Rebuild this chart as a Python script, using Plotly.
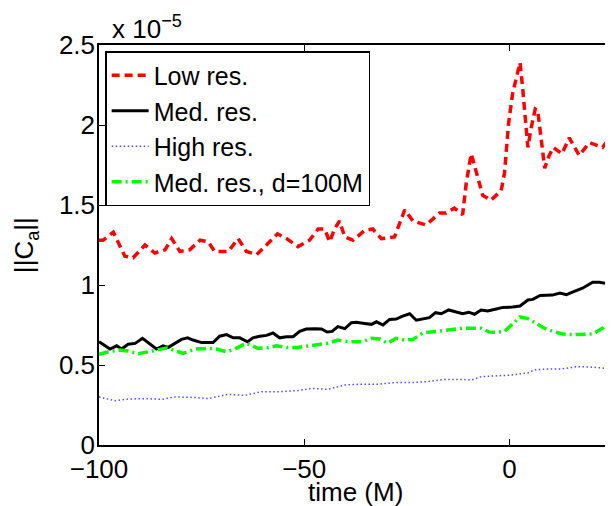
import plotly.graph_objects as go

SCALE = 1e-5

# Low res. (values in units of 1e-5)
t_low = [-100, -99, -96.5, -94.9, -93.7, -91.7, -88.8, -86.4, -83.9, -82.3, -80.3, -77.9,
         -75.4, -73.4, -71.8, -68.5, -66.1, -64.1, -61.6, -59.2, -56.5, -54.3, -51.5,
         -48.7, -46.6, -45.0, -43.8, -42.6, -41.4, -40.1, -38.1, -35.3, -33.3, -31.2,
         -28.0, -25.5, -23.5, -20.3, -17.0, -15.4, -13.4, -11.4, -10.5, -9.3, -7.7,
         -6.5, -4.5, -2.0, -1.2, -0.2, 0.8, 1.9, 2.6, 3.2, 4.1, 4.5, 5.3, 6.3, 6.9,
         7.7, 8.6, 9.7, 10.7, 12.8, 14.6, 17.0, 19.5, 22.7, 25.0]
y_low = [1.28, 1.28, 1.33, 1.25, 1.18, 1.17, 1.25, 1.20, 1.22, 1.29, 1.21, 1.22,
         1.28, 1.27, 1.21, 1.21, 1.29, 1.21, 1.19, 1.25, 1.32, 1.29, 1.24,
         1.28, 1.35, 1.35, 1.27, 1.35, 1.40, 1.30, 1.28, 1.34, 1.35, 1.29,
         1.30, 1.47, 1.40, 1.375, 1.45, 1.45, 1.48, 1.44, 1.64, 1.82, 1.68,
         1.56, 1.53, 1.59, 1.70, 2.01, 2.20, 2.32, 2.39, 2.24, 2.01, 1.86, 1.98, 2.10, 2.09,
         1.93, 1.73, 1.81, 1.86, 1.82, 1.92, 1.81, 1.89, 1.86, 1.94]

# Med. res.
t_med = [-100, -99, -97.3, -95.7, -94.5, -92.9, -91.2, -89.4, -87.6, -86.0, -84.4, -83.1,
         -81.5, -79.9, -78.4, -77.1, -75.0, -72.2, -70.6, -68.9, -67.3, -65.7, -63.8,
         -62.5, -60.8, -59.2, -57.6, -56.0, -54.3, -52.7, -51.1, -49.5, -47.4, -45.8,
         -44.4, -43.2, -41.8, -40.1, -38.5, -37.3, -35.3, -33.6, -32.4, -30.8, -29.2,
         -27.6, -26.0, -24.3, -22.7, -21.1, -19.5, -18.0, -16.6, -14.8, -13.0, -11.4,
         -9.9, -8.5, -6.9, -5.3, -3.2, -1.6, 0.8, 2.6, 4.5, 5.7, 7.5, 10.5, 12.3, 13.9,
         15.8, 17.8, 20.3, 21.9, 25.0]
y_med = [0.646, 0.63, 0.60, 0.62, 0.60, 0.63, 0.635, 0.667, 0.63, 0.60, 0.62, 0.61,
         0.635, 0.66, 0.67, 0.656, 0.64, 0.64, 0.68, 0.69, 0.67, 0.67, 0.645,
         0.67, 0.68, 0.685, 0.70, 0.67, 0.677, 0.677, 0.71, 0.725, 0.727, 0.725,
         0.706, 0.71, 0.74, 0.727, 0.764, 0.767, 0.76, 0.754, 0.77, 0.75, 0.785,
         0.787, 0.806, 0.82, 0.78, 0.79, 0.796, 0.827, 0.82, 0.844, 0.83, 0.82,
         0.83, 0.817, 0.844, 0.838, 0.85, 0.86, 0.862, 0.869, 0.906, 0.91, 0.935, 0.937, 0.95, 0.94,
         0.96, 0.98, 1.017, 1.017, 1.003]

# High res.
t_high = [-100, -96.1, -92.9, -88.8, -84.7, -81.5, -76.6, -73.4, -68.5, -64.5, -60.4,
          -56.4, -51.5, -48.2, -44.2, -40.1, -36.1, -32.0, -28.0, -23.9, -19.9, -15.8,
          -11.8, -9.3, -6.9, -3.6, 0.4, 4.5, 6.1, 9.3, 12.6, 16.6, 20.7, 25.0]
y_high = [0.30, 0.277, 0.287, 0.29, 0.285, 0.30, 0.297, 0.29, 0.317, 0.31, 0.333,
          0.333, 0.34, 0.354, 0.348, 0.375, 0.38, 0.38, 0.39, 0.39, 0.396, 0.41,
          0.41, 0.406, 0.427, 0.433, 0.437, 0.45, 0.47, 0.475, 0.475, 0.49, 0.486, 0.475]

# Med. res., d=100M
t_d100 = [-100, -97.7, -94.9, -92.9, -90.4, -88.0, -85.2, -83.5, -81.9, -79.5, -76.6,
          -73.4, -71.4, -68.9, -66.9, -64.1, -61.2, -58.8, -56.8, -54.3, -51.5, -49.1,
          -46.6, -44.2, -41.8, -39.3, -35.7, -33.6, -31.6, -29.6, -27.6, -25.5, -23.5,
          -21.1, -17.8, -14.6, -11.4, -8.9, -6.9, -4.9, -3.2, -1.2, 0.8, 2.6, 4.5, 6.5,
          8.5, 10.5, 13.0, 15.4, 17.8, 20.3, 22.7, 25.0]
y_d100 = [0.567, 0.583, 0.594, 0.587, 0.57, 0.583, 0.60, 0.606, 0.594, 0.573, 0.60,
          0.604, 0.60, 0.583, 0.60, 0.636, 0.604, 0.608, 0.62, 0.61, 0.61, 0.62,
          0.625, 0.636, 0.656, 0.646, 0.646, 0.667, 0.663, 0.636, 0.667, 0.656, 0.66,
          0.70, 0.71, 0.72, 0.73, 0.73, 0.73, 0.706, 0.704, 0.71, 0.76, 0.80, 0.79, 0.76,
          0.73, 0.71, 0.694, 0.69, 0.69, 0.694, 0.73, 0.79]

y_ticks = [0, 0.5, 1, 1.5, 2, 2.5]
y_tick_labels = ["0", "0.5", "1", "1.5", "2", "2.5"]
x_ticks = [-100, -50, 0]

FONT = "Liberation Sans, Arial, Helvetica, sans-serif"


def sc(v):
    return [a * SCALE for a in v]


fig = go.Figure()
fig.add_trace(go.Scatter(x=t_low, y=sc(y_low), mode="lines", name="Low res.",
                         line=dict(color="#ff0000", width=3.5, dash="8px,5px")))
fig.add_trace(go.Scatter(x=t_med, y=sc(y_med), mode="lines", name="Med. res.",
                         line=dict(color="#000000", width=3)))
fig.add_trace(go.Scatter(x=t_high, y=sc(y_high), mode="lines", name="High res.",
                         line=dict(color="#4d4dff", width=1.5, dash="1.5px,2.5px")))
fig.add_trace(go.Scatter(x=t_d100, y=sc(y_d100), mode="lines", name="Med. res., d=100M",
                         line=dict(color="#00ff00", width=3.5, dash="10px,4px,2px,4px")))

# The page places the figure 8px from the top-left corner (default body margin),
# so the figure is 8px smaller and margins are reduced by 8px.
fig.update_layout(
    width=605, height=498,
    margin=dict(l=91, r=1, t=37, b=61),
    paper_bgcolor="white", plot_bgcolor="white",
    font=dict(family=FONT, size=26, color="black"),
    showlegend=True,
    legend=dict(x=0.012, y=0.985, xanchor="left", yanchor="top",
                bgcolor="white", bordercolor="black", borderwidth=1.5,
                font=dict(family=FONT, size=25, color="black"),
                tracegroupgap=0, itemwidth=37),
    xaxis=dict(range=[-100, 25], tickvals=x_ticks, ticks="inside", ticklen=6,
               tickwidth=1, tickcolor="black", mirror="ticks", showline=True,
               linecolor="black", linewidth=1.5, showgrid=False, zeroline=False,
               tickfont=dict(size=26), ticklabelstandoff=0, automargin=False),
    yaxis=dict(range=[0, 2.5 * SCALE], tickvals=sc(y_ticks), ticktext=y_tick_labels,
               ticks="inside", ticklen=6, tickwidth=1, tickcolor="black",
               mirror="ticks", showline=True, linecolor="black", linewidth=1.5,
               showgrid=False, zeroline=False, tickfont=dict(size=26),
               ticklabelstandoff=-3, automargin=False),
    annotations=[
        dict(text="x 10<sup>−5</sup>", xref="paper", yref="paper", x=0.022, y=0.997,
             xanchor="left", yanchor="bottom", showarrow=False,
             font=dict(family=FONT, size=26)),
        dict(text="||C<sub>a</sub>||", xref="paper", yref="paper", x=-0.144, y=0.5,
             xanchor="center", yanchor="middle", textangle=-90, showarrow=False,
             font=dict(family=FONT, size=26)),
        dict(text="time (M)", xref="paper", yref="paper", x=0.5, y=-0.118,
             xanchor="center", yanchor="middle", showarrow=False,
             font=dict(family=FONT, size=26)),
    ],
)

fig.write_html("out.html")
